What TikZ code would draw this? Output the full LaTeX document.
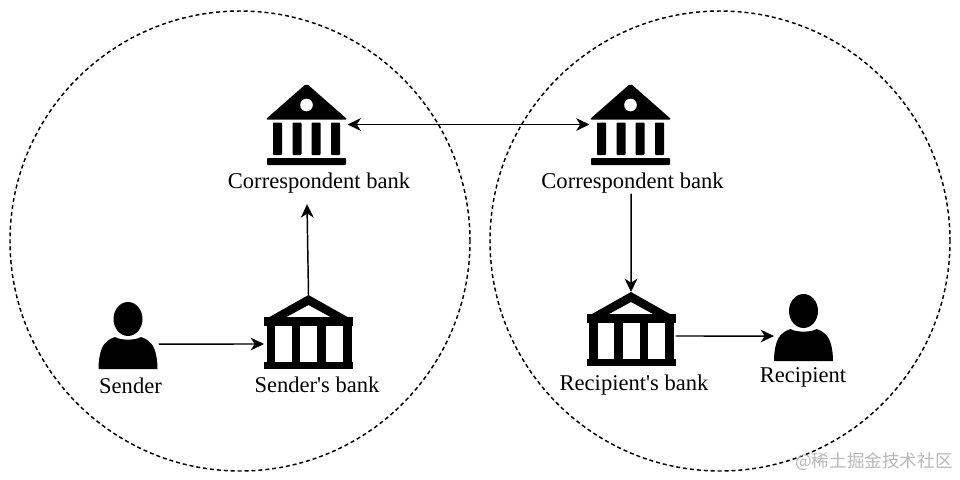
\documentclass[tikz,border=0pt]{standalone}
\usepackage{fontspec}
\setmainfont{Liberation Serif}
\newfontfamily\capfont{Liberation Serif}
\newfontfamily\cjkwm{Noto Sans CJK SC}
\usetikzlibrary{arrows.meta}
\definecolor{wmgray}{RGB}{185,185,185}
\def\px{0.75pt}
\tikzset{
  zone/.style={draw=black,line width=1.1pt,dash pattern=on 3pt off 2.2pt},
  link/.style={draw=black,line width=1.1pt,-{Stealth[length=10pt,width=9.5pt,inset=3pt]}},
  biglink/.style={draw=black,line width=1.1pt,{Stealth[length=10pt,width=9.5pt,inset=3pt]}-{Stealth[length=10pt,width=9.5pt,inset=3pt]}},
  captext/.style={font=\capfont\fontsize{16.9pt}{19pt}\selectfont,inner sep=0pt,text height=12.2pt,text depth=3.9pt},
  box/.style={inner sep=0pt,outer sep=0pt,minimum width=#1*\px},
  solidbank/.pic={
    \fill[black,rounded corners=1.5pt] (0,-41) -- (41,-5) -- (-41,-5) -- cycle;
    \fill[white] (0,-19.5) circle (6.3);
    \fill[black,rounded corners=0.6pt] (-33.5,-2) rectangle (-24.5,30.5);
    \fill[black,rounded corners=0.6pt] (-14,-2) rectangle (-5,30.5);
    \fill[black,rounded corners=0.6pt] (5,-2) rectangle (14,30.5);
    \fill[black,rounded corners=0.6pt] (24.5,-2) rectangle (33.5,30.5);
    \fill[black,rounded corners=0.6pt] (-39.5,33.5) rectangle (39.5,40.5);
  },
  openbank/.pic={
    \fill[black,even odd rule] (0,-37) -- (39,-15) -- (-39,-15) -- cycle
      (0,-27) -- (-22,-15) -- (22,-15) -- cycle;
    \fill[black] (-44.5,-15) rectangle (44.5,-6);
    \fill[black] (-42,-6) rectangle (-33.5,30);
    \fill[black] (-17,-6) rectangle (-8.5,30);
    \fill[black] (8.5,-6) rectangle (17,30);
    \fill[black] (34,-6) rectangle (43,30);
    \fill[black] (-44.5,30) rectangle (44.5,37);
  },
  person/.pic={
    \fill[black] (0,-16.5) ellipse (14.5 and 17);
    \fill[black] (-29.5,33.5) -- (29.5,33.5)
      .. controls (29.5,22) and (27,10) .. (21,6)
      .. controls (18,3) and (15,2.5) .. (13,1.5)
      .. controls (8,5) and (-8,5) .. (-13,1.5)
      .. controls (-15,2.5) and (-18,3) .. (-21,6)
      .. controls (-27,10) and (-29.5,22) .. (-29.5,33.5) -- cycle;
  },
}
\begin{document}
\begin{tikzpicture}[x=\px,y=-\px]
\useasboundingbox (0,0) rectangle (960,479);
\fill[white] (0,0) rectangle (960,479);

\node[zone,circle,box=460,minimum height=460*\px] (left) at (240,241) {};
\node[zone,circle,box=460,minimum height=460*\px] (right) at (720,241) {};

\pic at (306.5,124.5) {solidbank};
\pic at (630.5,124.5) {solidbank};
\pic at (308.5,332) {openbank};
\pic at (631,329) {openbank};
\pic at (128,335.5) {person};
\pic at (803.5,327.5) {person};

\node[box=82,minimum height=82*\px] (cb1) at (306.5,124.5) {};
\node[box=82,minimum height=82*\px] (cb2) at (630.5,124.5) {};
\node[box=89,minimum height=74*\px] (sb) at (308.5,332) {};
\node[box=89,minimum height=74*\px] (rb) at (631,329) {};
\node[box=59,minimum height=67*\px] (sender) at (128,335.5) {};
\node[box=59,minimum height=67*\px] (recipient) at (803.5,327.5) {};

\node[captext] (cb1l) at (319,182.5) {Correspondent bank};
\node[captext] (cb2l) at (632.5,182.5) {Correspondent bank};
\node[captext] (sbl) at (317,387) {Sender's bank};
\node[captext] (rbl) at (634,385) {Recipient's bank};
\node[captext] (senderl) at (130.5,388) {Sender};
\node[captext] (recipientl) at (803,377) {Recipient};
\node[inner sep=0pt,text=wmgray,font=\cjkwm\fontsize{13.2pt}{15pt}\selectfont] (wm) at (874,462) {@稀土掘金技术社区};

\draw[biglink] (cb1.east) -- (cb2.west);
\draw[link] (sb.north) -- ([xshift=-9pt,yshift=-8pt]cb1l.south);
\draw[link] ([xshift=-1pt]cb2l.south) -- (rb.north);
\draw[link] ([xshift=1pt,yshift=-6.4pt]sender.east) -- ([yshift=-9pt]sb.west);
\draw[link] ([yshift=-5.25pt]rb.east) -- ([yshift=-6.4pt]recipient.west);
\end{tikzpicture}
\end{document}
